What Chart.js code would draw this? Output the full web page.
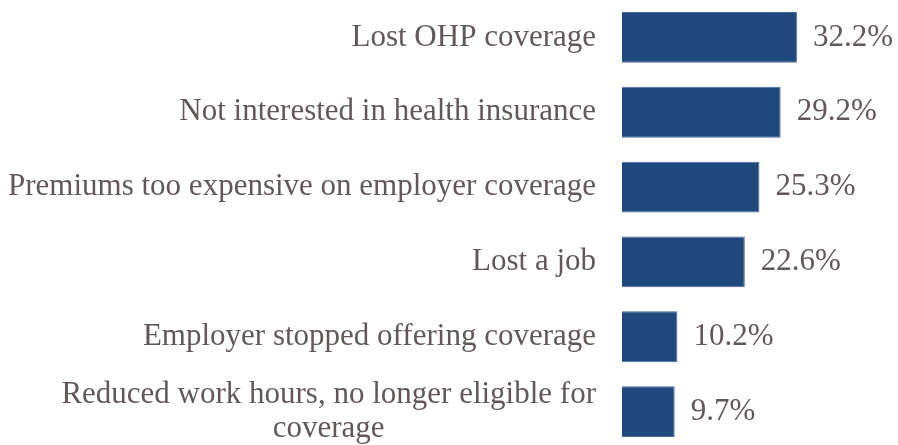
<!DOCTYPE html>
<html>
<head>
<meta charset="utf-8">
<script src="https://cdn.jsdelivr.net/npm/chart.js@4.4.1/dist/chart.umd.min.js"></script>
<style>
  html, body { margin: 0; padding: 0; background: #fff; overflow: hidden; }
  #wrap { position: relative; width: 898px; height: 449px; }
</style>
</head>
<body>
<div id="wrap"><canvas id="chart"></canvas></div>
<script>
// reasons for losing coverage, share of respondents (%)
var categories = [
  'Lost OHP coverage',
  'Not interested in health insurance',
  'Premiums too expensive on employer coverage',
  'Lost a job',
  'Employer stopped offering coverage',
  ['Reduced work hours, no longer eligible for', 'coverage']
];
var percentValues = [32.2, 29.2, 25.3, 22.6, 10.2, 9.7];

var BAR_COLOR = '#1f497d';
var BAR_EDGE = '#46699a';
var TEXT_COLOR = '#625858';
var FONT = '31px "Liberation Serif", "Times New Roman", serif';
var AXIS_WIDTH = 622;   // left edge of the bars
var LABEL_GAP = 26;     // space between category text and bars
var LINE_HEIGHT = 34;

// category text, drawn by hand so wrapped lines are centred on each other
var categoryLabels = {
  id: 'categoryLabels',
  afterDraw: function (chart) {
    var ctx = chart.ctx;
    var yScale = chart.scales.y;
    var rightX = AXIS_WIDTH - LABEL_GAP;
    ctx.save();
    ctx.font = FONT;
    ctx.fillStyle = TEXT_COLOR;
    ctx.textBaseline = 'middle';
    categories.forEach(function (label, i) {
      var y = yScale.getPixelForTick(i);
      if (Array.isArray(label)) {
        var widest = 0;
        label.forEach(function (l) { widest = Math.max(widest, ctx.measureText(l).width); });
        var cx = rightX - widest / 2;
        ctx.textAlign = 'center';
        label.forEach(function (l, j) {
          ctx.fillText(l, cx, y + (j - (label.length - 1) / 2) * LINE_HEIGHT);
        });
      } else {
        ctx.textAlign = 'right';
        ctx.fillText(label, rightX, y);
      }
    });
    ctx.restore();
  }
};

// value labels just past the end of each bar
var valueLabels = {
  id: 'valueLabels',
  afterDatasetsDraw: function (chart) {
    var ctx = chart.ctx;
    var meta = chart.getDatasetMeta(0);
    ctx.save();
    ctx.font = FONT;
    ctx.fillStyle = TEXT_COLOR;
    ctx.textAlign = 'left';
    ctx.textBaseline = 'middle';
    meta.data.forEach(function (bar, i) {
      ctx.fillText(percentValues[i].toFixed(1) + '%', bar.x + 16, bar.y);
    });
    ctx.restore();
  }
};

new Chart(document.getElementById('chart'), {
  type: 'bar',
  data: {
    labels: categories,
    datasets: [{
      data: percentValues,
      backgroundColor: BAR_COLOR,
      borderColor: BAR_EDGE,
      borderWidth: 1,
      barPercentage: 0.68,
      categoryPercentage: 1
    }]
  },
  options: {
    indexAxis: 'y',
    responsive: true,
    maintainAspectRatio: false,
    animation: false,
    layout: { padding: 0 },
    plugins: {
      legend: { display: false },
      tooltip: { enabled: false }
    },
    scales: {
      x: {
        display: false,
        min: 0,
        max: 50.8
      },
      y: {
        grid: { display: false, drawTicks: false },
        border: { display: false },
        ticks: { display: false },
        afterFit: function (scale) { scale.width = AXIS_WIDTH; }
      }
    }
  },
  plugins: [categoryLabels, valueLabels]
});
</script>
</body>
</html>
